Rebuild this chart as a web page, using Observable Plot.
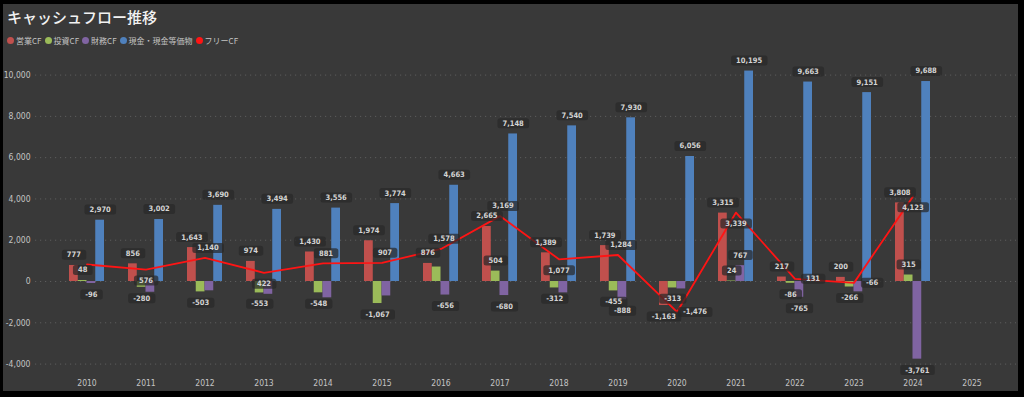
<!DOCTYPE html>
<html><head><meta charset="utf-8">
<script src="https://cdn.jsdelivr.net/npm/d3@7"></script>
<script src="https://cdn.jsdelivr.net/npm/@observablehq/plot@0.6"></script>
<style>
html,body{margin:0;padding:0;background:#000;width:1024px;height:397px;overflow:hidden;position:relative}
#panel{position:absolute;left:3px;top:4px;width:1015px;height:387px;background:#393939}
#title{position:absolute;left:7px;top:6px;font:500 15px "Noto Sans CJK JP";color:#f2f2f2}
#legend{position:absolute;left:7px;top:35px;font:8px "Noto Sans CJK JP";color:#c4c4c4;display:flex;gap:3px;align-items:center}
#legend span.it{display:flex;align-items:center;gap:2px}
#legend i{display:inline-block;width:7px;height:7px;border-radius:50%}
#chart{position:absolute;left:0;top:48px}
</style></head>
<body>
<div id="panel"></div>
<div id="title">キャッシュフロー推移</div>
<div id="legend"></div>
<div id="chart"></div>
<script>
const years = [2010,2011,2012,2013,2014,2015,2016,2017,2018,2019,2020,2021,2022,2023,2024,2025];
const operating = [777,856,1643,974,1430,1974,876,2665,1389,1739,-1163,3315,217,200,3808,null];
const investing = [48,-280,-503,-553,-548,-1067,702,504,-312,-455,-313,24,-86,-266,315,null];
const financing = [-96,-520,-450,-620,-790,-700,-656,-680,-550,-888,-360,767,-765,-500,-3761,null];
const cash = [2970,3002,3690,3494,3556,3774,4663,7148,7540,7930,6056,10195,9663,9151,9688,null];
const freeCF = [825,576,1140,422,881,907,1578,3169,1077,1284,-1476,3339,131,-66,4123,null];
const seriesNames = ["営業CF","投資CF","財務CF","現金・現金等価物","フリーCF"];
const yTicks = [-4000,-2000,0,2000,4000,6000,8000,10000];

// style config
const colors = ["#c0504d","#9bbb59","#8064a2","#4f81bd","#ff1414"];
const hiddenLabels = new Set(["投資CF-2016","財務CF-2011","財務CF-2012","財務CF-2013","財務CF-2014","財務CF-2015","財務CF-2018","財務CF-2020","財務CF-2023","フリーCF-2010"]);
const freePlacement = {2011:"below",2013:"below",2018:"below",2021:"below",2024:"below",2020:"right",2022:"right",2023:"right"};

// legend
const lg = document.getElementById("legend");
seriesNames.forEach((n,i)=>{
  const s=document.createElement("span"); s.className="it";
  s.innerHTML=`<i style="background:${colors[i]}"></i>${n}`; lg.appendChild(s);
});

const barSeries = [operating,investing,financing,cash];
const rows = [];
barSeries.forEach((arr,k)=>arr.forEach((v,i)=>{ if(v!=null) rows.push({series:seriesNames[k],k,year:years[i],value:v}); }));
const freeRows = freeCF.map((v,i)=>({series:"フリーCF",year:years[i],value:v})).filter(d=>d.value!=null);

const W=1024,H=343;
const r0=50.1,r1=1006.9,pIn=0.415;
const step=(r1-r0)/years.length, bw=step*(1-pIn), sub=bw/4;
const fmt = v => v.toLocaleString("en-US");
const labelFont = {fontFamily:"DejaVu Sans Condensed",fontSize:7.5,fontWeight:"bold",fill:"#d4d4d4"};

const marks = [
  Plot.ruleY(yTicks,{stroke:"#5c5c5c",strokeDasharray:"1.2,3.8",strokeWidth:1}),
  Plot.axisY({ticks:yTicks,tickSize:0,tickPadding:5,tickFormat:fmt,fill:"#c4c4c4"}),
  Plot.axisX({tickSize:0,tickPadding:6,tickFormat:d=>String(d),fill:"#c4c4c4"})
];
barSeries.forEach((arr,k)=>{
  marks.push(Plot.barY(rows.filter(d=>d.k===k),{x:"year",y:"value",fill:colors[k],insetLeft:k*sub,insetRight:(3-k)*sub}));
});
marks.push(Plot.lineY(freeRows,{x:"year",y:"value",stroke:colors[4],strokeWidth:1.8}));
const labelMarks = [];
barSeries.forEach((arr,k)=>{
  const dx=(k-1.5)*sub;
  const vis=rows.filter(d=>d.k===k && !hiddenLabels.has(d.series+"-"+d.year));
  labelMarks.push(Plot.text(vis.filter(d=>d.value>=0),{x:"year",y:"value",text:d=>fmt(d.value),dx,dy:-10.5,...labelFont}));
  labelMarks.push(Plot.text(vis.filter(d=>d.value<0),{x:"year",y:"value",text:d=>fmt(d.value),dx,dy:11,...labelFont}));
});
const fvis=freeRows.filter(d=>!hiddenLabels.has("フリーCF-"+d.year));
labelMarks.push(Plot.text(fvis.filter(d=>!freePlacement[d.year]),{x:"year",y:"value",text:d=>fmt(d.value),dx:3,dy:-10,...labelFont}));
labelMarks.push(Plot.text(fvis.filter(d=>freePlacement[d.year]==="below"),{x:"year",y:"value",text:d=>fmt(d.value),dy:11,...labelFont}));
labelMarks.push(Plot.text(fvis.filter(d=>freePlacement[d.year]==="right"),{x:"year",y:"value",text:d=>fmt(d.value),dx:18,...labelFont}));

const chart = Plot.plot({
  width:W,height:H,marginLeft:35,marginRight:8,marginTop:0,marginBottom:18,
  style:{background:"transparent",fontFamily:"DejaVu Sans Condensed",fontSize:"8.5px",color:"#c4c4c4",overflow:"visible"},
  x:{type:"band",domain:years,range:[r0,r1],paddingInner:pIn,paddingOuter:pIn/2,label:null},
  y:{domain:[-4500,10600],range:[325.9,14.2],label:null},
  marks:[...marks,...labelMarks]
});
document.getElementById("chart").appendChild(chart);

// rounded label boxes behind data labels
const svgNS="http://www.w3.org/2000/svg";
const groups=[...chart.querySelectorAll(':scope > g')];
const labelGroups=groups.slice(groups.length-labelMarks.length);
labelGroups.forEach(g=>{
  g.querySelectorAll('text').forEach(t=>{
    const b=t.getBBox();
    const r=document.createElementNS(svgNS,"rect");
    r.setAttribute("x",b.x-5); r.setAttribute("y",b.y-0.5);
    r.setAttribute("width",b.width+10); r.setAttribute("height",b.height+1);
    r.setAttribute("rx",2.5);
    r.setAttribute("style","fill:rgba(40,40,40,0.72);stroke:none");
    if(t.getAttribute("transform")) r.setAttribute("transform",t.getAttribute("transform"));
    t.parentNode.insertBefore(r,t);
  });
});
</script>
</body></html>
